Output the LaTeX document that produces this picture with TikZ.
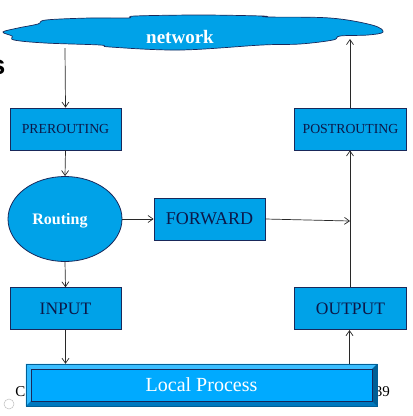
\documentclass[tikz,border=0pt]{standalone}
\usepackage{fontspec}
\setmainfont{Liberation Serif}
\newfontfamily\arialfont{Liberation Sans}
\usetikzlibrary{shapes.geometric,arrows.meta}
\definecolor{boxblue}{RGB}{0,162,232}
\definecolor{boxline}{RGB}{25,40,90}
\definecolor{boxtext}{RGB}{12,24,72}
\definecolor{lpfill}{RGB}{0,170,255}
\definecolor{lplight}{RGB}{60,190,255}
\definecolor{lpdark}{RGB}{0,120,190}
\definecolor{lpdarker}{RGB}{0,95,150}
\definecolor{arrowcol}{RGB}{40,40,40}
\tikzset{
  chainbox/.style={draw=boxline, line width=0.8pt, fill=boxblue, inner sep=0pt,
    text=boxtext, minimum height=42pt},
  conn/.style={draw=arrowcol, line width=0.7pt, -{Straight Barb[length=5pt,width=7pt]}},
}
\begin{document}
\begin{tikzpicture}[x=1pt,y=-1pt]
\useasboundingbox (0,0) rectangle (413,416);
\clip (0,0) rectangle (413,416);
% cut title letter
\node[font=\arialfont\bfseries\fontsize{27}{27}\selectfont, anchor=east, inner sep=0pt] (titles) at (5.5,67) {s};
% footer texts behind the box
\node[font=\fontsize{15}{15}\selectfont, inner sep=0pt] (footc) at (20.5,392) {C};
\node[font=\fontsize{15}{15}\selectfont, inner sep=0pt, anchor=east] (foot39) at (390,392) {39};
% small icon
\draw[gray!50, line width=0.5pt] (9,404) circle (5);
% cloud
\path[draw=boxline, line width=0.7pt, fill=boxblue] plot[smooth cycle, tension=0.6] coordinates {
 (3,32) (18,28) (38,24) (46,20) (90,18) (128,18) (135,16) (200,15) (262,16) (268,17)
 (330,18) (372,25) (383,32) (368,35) (340,36) (333,40) (300,44) (262,45)
 (180,50) (110,47) (100,45) (45,43) (14,40) (12,36)};
\node[font=\bfseries\fontsize{19}{19}\selectfont, text=white] (network) at (180,37) {network};
\coordinate (netL) at (65,48);
\coordinate (netR) at (350,39);
% nodes
\node[chainbox, minimum width=111pt, font=\fontsize{13.8}{14}\selectfont] (pre) at (65.5,129) {PREROUTING};
\node[chainbox, minimum width=112pt, font=\fontsize{13.8}{14}\selectfont] (post) at (350.5,129) {POSTROUTING};
\node[ellipse, draw=boxline, line width=0.8pt, fill=boxblue, minimum width=114pt, minimum height=85pt,
  inner sep=0pt, text=white, font=\bfseries\fontsize{16}{16}\selectfont] (routing) at (65,219) {};
\node[text=white, font=\bfseries\fontsize{16}{16}\selectfont] (routingtext) at (60,221) {Routing};
\node[chainbox, minimum width=111pt, font=\fontsize{18}{18}\selectfont] (fwd) at (209.5,219) {FORWARD};
\node[chainbox, minimum width=111pt, font=\fontsize{17.5}{18}\selectfont] (input) at (65.5,308.7) {INPUT};
\node[chainbox, minimum width=112pt, font=\fontsize{17.5}{18}\selectfont] (output) at (350.5,308.7) {OUTPUT};
% local process bevelled box
\node[draw=none, fill=lpfill, minimum width=351pt, minimum height=42pt, inner sep=0pt] (lp) at (201.5,385) {};
\fill[lplight] (lp.north west) -- (lp.north east) -- ([xshift=-5pt,yshift=-5pt]lp.north east) -- ([xshift=5pt,yshift=-5pt]lp.north west) -- cycle;
\fill[lplight!80!lpfill] (lp.north west) -- ([xshift=5pt,yshift=-5pt]lp.north west) -- ([xshift=5pt,yshift=5pt]lp.south west) -- (lp.south west) -- cycle;
\fill[lpdark] (lp.south west) -- ([xshift=5pt,yshift=5pt]lp.south west) -- ([xshift=-5pt,yshift=5pt]lp.south east) -- (lp.south east) -- cycle;
\fill[lpdarker] (lp.north east) -- (lp.south east) -- ([xshift=-5pt,yshift=5pt]lp.south east) -- ([xshift=-5pt,yshift=-5pt]lp.north east) -- cycle;
\draw[boxline, line width=0.6pt] ([xshift=5pt,yshift=-5pt]lp.north west) rectangle ([xshift=-5pt,yshift=5pt]lp.south east);
\draw[lpdarker, line width=0.4pt] (lp.north west) rectangle (lp.south east);
\node[text=white, font=\fontsize{20}{20}\selectfont] (lptext) at (201.5,385) {Local Process};
% connectors
\coordinate (join) at (350,221);
\draw[conn] (netL) -- (pre.north);
\draw[conn] (pre.south) -- (routing.north);
\draw[conn] (routing.east) -- (fwd.west);
\draw[conn] (routing.south) -- (input.north);
\draw[conn] (fwd.east) -- (join);
\draw[conn] (output.north -| join) -- (post.south -| join);
\draw[conn] (post.north -| netR) -- (netR);
\draw[conn] (input.south) -- (input.south |- lp.north);
\draw[conn] ([xshift=-1pt]output.south |- lp.north) -- ([xshift=-1pt]output.south);
\end{tikzpicture}
\end{document}
